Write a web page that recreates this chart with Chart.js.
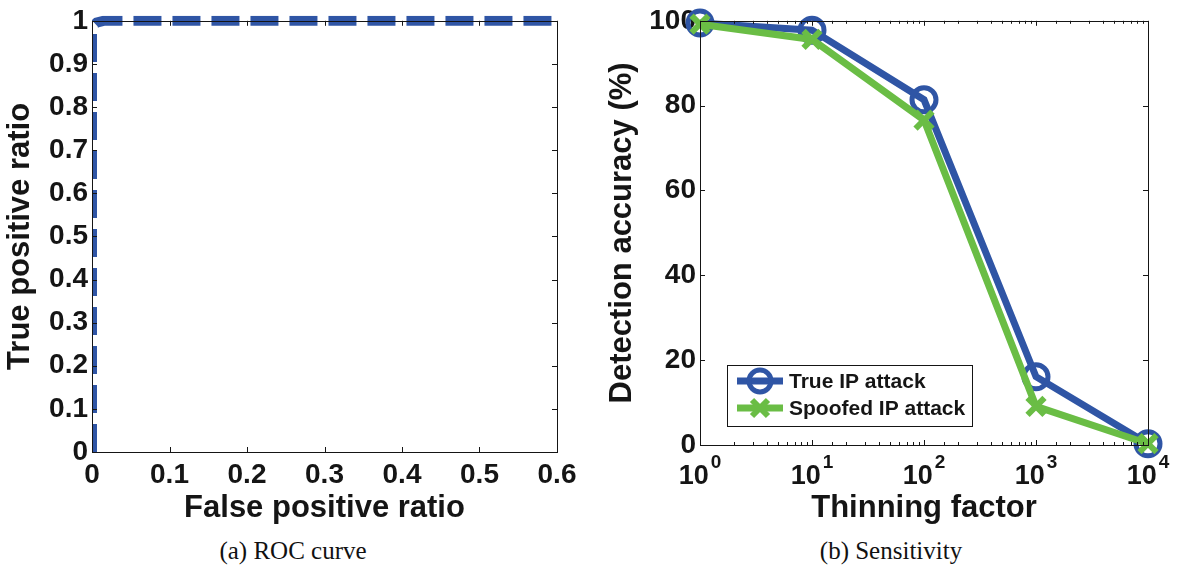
<!DOCTYPE html>
<html>
<head>
<meta charset="utf-8">
<script src="https://cdn.jsdelivr.net/npm/chart.js@4.4.1/dist/chart.umd.min.js"></script>
<style>
  body { margin: 0; background: #fff; width: 1178px; height: 573px; position: relative; overflow: hidden; }
  canvas { position: absolute; top: 0; }
  .cap { position: absolute; top: 537px; width: 400px; text-align: center; font: 25px "Liberation Serif", serif; color: #111; }
</style>
</head>
<body>
<canvas id="roc" width="590" height="530" style="left:0"></canvas>
<canvas id="sens" width="588" height="530" style="left:590px"></canvas>
<div class="cap" style="left:93px">(a) ROC curve</div>
<div class="cap" style="left:691px">(b) Sensitivity</div>
<script>
// (a) ROC curve
const rocFpr = [0, 0, 0.002, 0.006, 0.015, 0.6];
const rocTpr = [0, 0.975, 0.989, 0.996, 1, 1];

// (b) sensitivity to thinning factor
const thinning = [1, 10, 100, 1000, 10000];
const trueIp = [99.5, 97.8, 81.4, 16.1, 0.3];
const spoofedIp = [99.2, 95.6, 76.6, 9.1, 0.3];
const thinningTicks = [1, 10, 100, 1000, 10000];

const BLUE = "#2f55a5";
const GREEN = "#6abd45";
const INK = "#151515";
const SANS = '"Liberation Sans", Arial, sans-serif';

Chart.defaults.font.family = SANS;
Chart.defaults.color = INK;

function isPow10(v) {
  const l = Math.log10(v);
  return Math.abs(l - Math.round(l)) < 1e-9;
}

// box + inward tick marks, matlab style
const frame = {
  id: "frame",
  afterDraw(chart) {
    const a = chart.chartArea, ctx = chart.ctx;
    ctx.save();
    ctx.strokeStyle = INK;
    ctx.lineWidth = 1;
    ctx.strokeRect(Math.round(a.left) + 0.5, Math.round(a.top) + 0.5, Math.round(a.right - a.left), Math.round(a.bottom - a.top));
    Object.values(chart.scales).forEach(function (s) {
      s.ticks.forEach(function (t) {
        const p = Math.round(s.getPixelForValue(t.value)) + 0.5;
        const len = s.type === "logarithmic" && !isPow10(t.value) ? 3 : 5;
        ctx.beginPath();
        if (s.isHorizontal()) {
          ctx.moveTo(p, a.bottom); ctx.lineTo(p, a.bottom - len);
          ctx.moveTo(p, a.top); ctx.lineTo(p, a.top + len);
        } else {
          ctx.moveTo(a.left, p); ctx.lineTo(a.left + len, p);
          ctx.moveTo(a.right, p); ctx.lineTo(a.right - len, p);
        }
        ctx.stroke();
      });
    });
    ctx.restore();
  },
};

// 10^n labels with a real superscript
const powerLabels = {
  id: "powerLabels",
  afterDraw(chart) {
    const s = chart.scales.x, ctx = chart.ctx;
    ctx.save();
    ctx.fillStyle = INK;
    ctx.textBaseline = "alphabetic";
    ctx.textAlign = "left";
    thinningTicks.forEach(function (v) {
      const exp = String(Math.round(Math.log10(v)));
      ctx.font = "bold 27px " + SANS;
      const w1 = ctx.measureText("10").width;
      ctx.font = "bold 19px " + SANS;
      const w2 = ctx.measureText(exp).width;
      const x0 = s.getPixelForValue(v) - (w1 + w2 + 2) / 2;
      const base = chart.chartArea.bottom + 39;
      ctx.font = "bold 27px " + SANS;
      ctx.fillText("10", x0, base);
      ctx.font = "bold 19px " + SANS;
      ctx.fillText(exp, x0 + w1 + 2, base - 16);
    });
    ctx.restore();
  },
};

function marker(ctx, kind, x, y) {
  ctx.beginPath();
  if (kind === "circle") {
    ctx.strokeStyle = BLUE; ctx.lineWidth = 5;
    ctx.arc(x, y, 11, 0, Math.PI * 2);
  } else {
    ctx.strokeStyle = GREEN; ctx.lineWidth = 6;
    const d = 8;
    ctx.moveTo(x - d, y - d); ctx.lineTo(x + d, y + d);
    ctx.moveTo(x - d, y + d); ctx.lineTo(x + d, y - d);
  }
  ctx.stroke();
}

const boxLegend = {
  id: "boxLegend",
  afterDraw(chart) {
    const a = chart.chartArea, ctx = chart.ctx;
    const x = a.left + 27, y = a.bottom - 80, w = 245, h = 61;
    ctx.save();
    ctx.fillStyle = "#fff";
    ctx.fillRect(x, y, w, h);
    ctx.strokeStyle = INK; ctx.lineWidth = 1;
    ctx.strokeRect(x + 0.5, y + 0.5, w, h);
    const rows = [
      { label: chart.data.datasets[0].label, color: BLUE, kind: "circle", cy: y + 16 },
      { label: chart.data.datasets[1].label, color: GREEN, kind: "cross", cy: y + 43 },
    ];
    rows.forEach(function (r) {
      ctx.strokeStyle = r.color; ctx.lineWidth = 7;
      ctx.beginPath(); ctx.moveTo(x + 10, r.cy); ctx.lineTo(x + 56, r.cy); ctx.stroke();
      marker(ctx, r.kind, x + 33, r.cy);
      ctx.fillStyle = INK;
      ctx.font = "bold 21px " + SANS;
      ctx.textBaseline = "middle";
      ctx.fillText(r.label, x + 62, r.cy + 1);
    });
    ctx.restore();
  },
};

function fixWidth(w) { return function (s) { s.width = w; }; }
function fixHeight(h) { return function (s) { s.height = h; }; }

const tickFont = { size: 28, weight: "bold" };
const titleFont = { size: 31, weight: "bold" };

new Chart(document.getElementById("roc"), {
  type: "scatter",
  data: {
    datasets: [{
      data: rocFpr.map(function (x, i) { return { x: x, y: rocTpr[i] }; }),
      showLine: true,
      borderColor: BLUE,
      borderWidth: 10,
      borderDash: [28, 11],
      borderCapStyle: "butt",
      pointRadius: 0,
      tension: 0,
      clip: { left: 0, top: 5, right: 5, bottom: 0 },
    }],
  },
  options: {
    responsive: false,
    animation: false,
    devicePixelRatio: 1,
    layout: { padding: { top: 16, right: 33, left: 0, bottom: 0 } },
    plugins: { legend: { display: false }, tooltip: { enabled: false } },
    scales: {
      x: {
        type: "linear", min: 0, max: 0.6,
        ticks: {
          stepSize: 0.1, font: tickFont, padding: 6, maxRotation: 0,
          callback: function (v) { return String(Number(v.toFixed(1))); },
        },
        grid: { display: false, drawTicks: false },
        border: { display: false },
        title: { display: true, text: "False positive ratio", font: titleFont, padding: { top: 0, bottom: 3 } },
        afterFit: fixHeight(78),
      },
      y: {
        min: 0, max: 1,
        ticks: {
          stepSize: 0.1, font: tickFont, padding: 4,
          callback: function (v) { return String(Number(v.toFixed(1))); },
        },
        grid: { display: false, drawTicks: false },
        border: { display: false },
        title: { display: true, text: "True positive ratio", font: titleFont, padding: { top: 2, bottom: 0 } },
        afterFit: fixWidth(92),
      },
    },
  },
  plugins: [frame],
});

new Chart(document.getElementById("sens"), {
  type: "line",
  data: {
    datasets: [
      {
        label: "True IP attack",
        data: thinning.map(function (x, i) { return { x: x, y: trueIp[i] }; }),
        borderColor: BLUE,
        borderWidth: 7,
        pointStyle: "circle",
        pointRadius: 12,
        pointBorderWidth: 5,
        pointBorderColor: BLUE,
        pointBackgroundColor: "rgba(0,0,0,0)",
        order: 2,
        clip: false,
      },
      {
        label: "Spoofed IP attack",
        data: thinning.map(function (x, i) { return { x: x, y: spoofedIp[i] }; }),
        borderColor: GREEN,
        borderWidth: 7,
        pointStyle: "crossRot",
        pointRadius: 12,
        pointBorderWidth: 6,
        pointBorderColor: GREEN,
        order: 1,
        clip: false,
      },
    ],
  },
  options: {
    responsive: false,
    animation: false,
    devicePixelRatio: 1,
    layout: { padding: { top: 16, right: 30, left: 0, bottom: 0 } },
    plugins: { legend: { display: false }, tooltip: { enabled: false } },
    scales: {
      x: {
        type: "logarithmic", min: 1, max: 10000,
        ticks: { display: false, autoSkip: false },
        grid: { display: false, drawTicks: false },
        border: { display: false },
        title: { display: true, text: "Thinning factor", font: titleFont, padding: { top: 0, bottom: 3 } },
        afterFit: fixHeight(85),
      },
      y: {
        min: 0, max: 100,
        ticks: { stepSize: 20, font: tickFont, padding: 4 },
        grid: { display: false, drawTicks: false },
        border: { display: false },
        title: { display: true, text: "Detection accuracy (%)", font: titleFont, padding: { top: 14, bottom: 0 } },
        afterFit: fixWidth(110),
      },
    },
  },
  plugins: [frame, powerLabels, boxLegend],
});
</script>
</body>
</html>
